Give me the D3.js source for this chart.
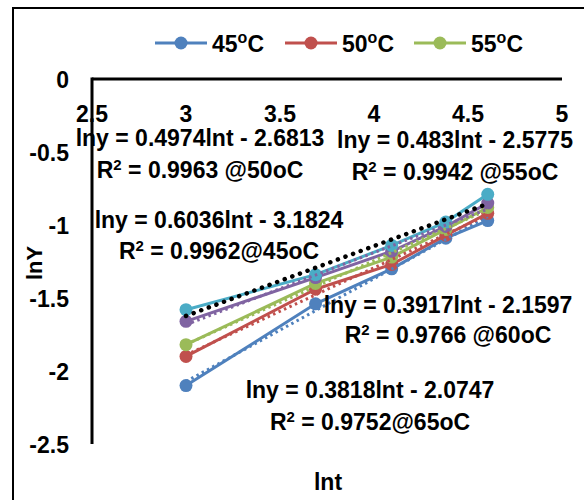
<!DOCTYPE html>
<html>
<head>
<meta charset="utf-8">
<script src="https://cdn.jsdelivr.net/npm/d3@7"></script>
<style>
  body { margin: 0; background: #fff; }
  text { font-family: "Liberation Sans", Arial, sans-serif; font-weight: bold; fill: #000; }
</style>
</head>
<body>
<div class="chart"></div>
<script>
// ln(t) values (t = 20, 40, 60, 80, 100)
var lnT = [3.0, 3.689, 4.094, 4.382, 4.605];

// lnY for each temperature
var y45 = [-2.10, -1.54, -1.30, -1.09, -0.97];
var y50 = [-1.90, -1.44, -1.27, -1.07, -0.92];
var y55 = [-1.82, -1.40, -1.22, -1.03, -0.88];
var y60 = [-1.66, -1.36, -1.18, -1.01, -0.85];
var y65 = [-1.58, -1.34, -1.14, -0.98, -0.79];

var seriesColors = ["#4f81bd", "#c0504d", "#9bbb59", "#8064a2", "#4bacc6"];
var trendColors = ["#4f81bd", "#c0504d", "#9bbb59", "#8064a2", "#000000"];
var legendNames = ["45", "50", "55"];

var xTicks = [2.5, 3, 3.5, 4, 4.5, 5];
var yTicks = [0, -0.5, -1, -1.5, -2, -2.5];

// equation labels as they appear on the chart
var eqTop = ["lny = 0.4974lnt - 2.6813", "lny = 0.483lnt - 2.5775", "lny = 0.6036lnt - 3.1824",
             "lny = 0.3917lnt - 2.1597", "lny = 0.3818lnt - 2.0747"];
var eqR2 = [" = 0.9963 @50oC", " = 0.9942 @55oC", " = 0.9962@45oC", " = 0.9766 @60oC", " = 0.9752@65oC"];
var eqPos = [[200, 146, 178], [455, 148, 180], [219, 228, 259], [448, 313, 343], [370, 398, 430]];

var allSeries = [y45, y50, y55, y60, y65];

var svg = d3.select(".chart").append("svg")
    .attr("width", 584)
    .attr("height", 500);

svg.append("rect").attr("width", 584).attr("height", 500).attr("fill", "#fff");

// outer frame
svg.append("rect")
    .attr("x", 13).attr("y", 8)
    .attr("width", 600).attr("height", 520)
    .attr("fill", "none").attr("stroke", "#000").attr("stroke-width", 2);

var x = d3.scaleLinear().domain([2.5, 5]).range([92, 562]);
var y = d3.scaleLinear().domain([0, -2.5]).range([79, 444]);

// axes lines
svg.append("line")
    .attr("x1", x(2.5)).attr("x2", x(5))
    .attr("y1", y(0)).attr("y2", y(0))
    .attr("stroke", "#000").attr("stroke-width", 3);
svg.append("line")
    .attr("x1", x(2.5)).attr("x2", x(2.5))
    .attr("y1", y(0) - 1.5).attr("y2", y(-2.5))
    .attr("stroke", "#000").attr("stroke-width", 3);

svg.selectAll(".xt")
    .data(xTicks)
    .enter()
    .append("text")
    .attr("x", function (d) { return x(d); })
    .attr("y", 122)
    .attr("text-anchor", "middle")
    .style("font-size", "23px")
    .text(function (d) { return d; });

svg.selectAll(".yt")
    .data(yTicks)
    .enter()
    .append("text")
    .attr("x", 69)
    .attr("y", function (d) { return y(d) + 9; })
    .attr("text-anchor", "end")
    .style("font-size", "23px")
    .text(function (d) { return d; });

// axis titles
svg.append("text")
    .attr("transform", "translate(42,263) rotate(-90)")
    .attr("text-anchor", "middle")
    .style("font-size", "22px")
    .text("lnY");
svg.append("text")
    .attr("x", 328).attr("y", 490)
    .attr("text-anchor", "middle")
    .style("font-size", "23px")
    .text("lnt");

var line = d3.line()
    .x(function (d, i) { return x(lnT[i]); })
    .y(function (d) { return y(d); });

// series lines and markers
allSeries.forEach(function (s, k) {
  svg.append("path")
      .datum(s)
      .attr("d", line)
      .attr("fill", "none")
      .attr("stroke", seriesColors[k])
      .attr("stroke-width", 3);
  svg.selectAll(".m" + k)
      .data(s)
      .enter()
      .append("circle")
      .attr("cx", function (d, i) { return x(lnT[i]); })
      .attr("cy", function (d) { return y(d); })
      .attr("r", 6.5)
      .attr("fill", seriesColors[k]);
});

// linear trendlines (least squares of each series)
function fit(ys) {
  var mx = d3.mean(lnT), my = d3.mean(ys);
  var sxy = d3.sum(lnT, function (v, i) { return (v - mx) * (ys[i] - my); });
  var sxx = d3.sum(lnT, function (v) { return (v - mx) * (v - mx); });
  var b = sxy / sxx;
  return [b, my - b * mx];
}

allSeries.forEach(function (s, k) {
  var f = fit(s);
  var x0 = d3.min(lnT), x1 = d3.max(lnT);
  var isBlack = trendColors[k] === "#000000";
  svg.append("line")
      .attr("x1", x(x0)).attr("y1", y(f[0] * x0 + f[1]))
      .attr("x2", x(x1)).attr("y2", y(f[0] * x1 + f[1]))
      .attr("stroke", trendColors[k])
      .attr("stroke-width", isBlack ? 4.5 : 3)
      .attr("stroke-linecap", isBlack ? "round" : "butt")
      .attr("stroke-dasharray", isBlack ? "0.1,8" : "2.5,3.5");
});

// equation labels
eqTop.forEach(function (txt, k) {
  svg.append("text")
      .attr("x", eqPos[k][0]).attr("y", eqPos[k][1])
      .attr("text-anchor", "middle")
      .style("font-size", "23px")
      .text(txt);
  var t = svg.append("text")
      .attr("x", eqPos[k][0]).attr("y", eqPos[k][2])
      .attr("text-anchor", "middle")
      .style("font-size", "23px");
  t.append("tspan").text("R");
  t.append("tspan").attr("dy", -8).style("font-size", "15px").text("2");
  t.append("tspan").attr("dy", 8).text(eqR2[k]);
});

// legend
var legX = [155, 285, 414];
legendNames.forEach(function (n, k) {
  svg.append("line")
      .attr("x1", legX[k]).attr("x2", legX[k] + 52)
      .attr("y1", 43).attr("y2", 43)
      .attr("stroke", seriesColors[k]).attr("stroke-width", 3);
  svg.append("circle")
      .attr("cx", legX[k] + 26).attr("cy", 43).attr("r", 6.5)
      .attr("fill", seriesColors[k]);
  var t = svg.append("text")
      .attr("x", legX[k] + 57).attr("y", 52)
      .style("font-size", "23px");
  t.append("tspan").text(n);
  t.append("tspan").attr("dy", -9).style("font-size", "16px").text("o");
  t.append("tspan").attr("dy", 9).text("C");
});
</script>
</body>
</html>
